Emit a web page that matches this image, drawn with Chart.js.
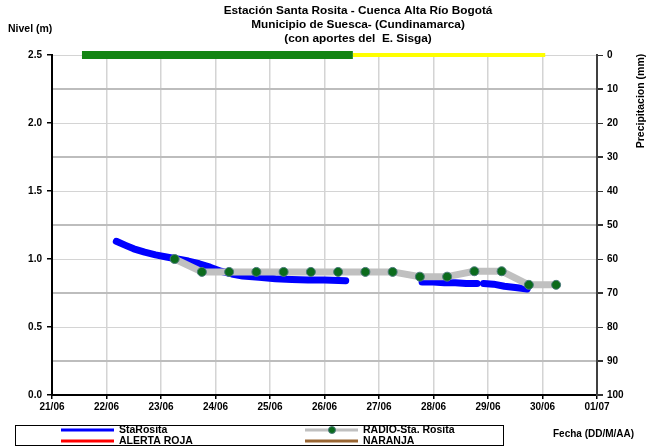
<!DOCTYPE html>
<html>
<head>
<meta charset="utf-8">
<script src="https://cdn.jsdelivr.net/npm/chart.js@4"></script>
<style>
  html, body { margin: 0; padding: 0; background: #fff; }
  canvas { display: block; }
</style>
</head>
<body>
<canvas id="myChart" width="646" height="447"></canvas>
<script>
// fechas del eje x (dias desde 21/06)
var dayLabels = ['21/06', '22/06', '23/06', '24/06', '25/06', '26/06', '27/06', '28/06', '29/06', '30/06', '01/07'];

// nivel StaRosita (m), null = sin dato
var staRositaDays = [1.18, 1.35, 1.5, 1.7, 1.9, 2.1, 2.3, 2.5, 2.7, 2.9, 3.1, 3.3, 3.5, 3.8, 4.1, 4.4, 4.7, 5.0, 5.39, 5.6,
                     6.79, 7.0, 7.2, 7.4, 7.6, 7.8, 7.86, 7.92, 8.1, 8.3, 8.5, 8.72];
var staRositaNivel = [1.13, 1.10, 1.075, 1.05, 1.03, 1.015, 1.0, 0.985, 0.965, 0.94, 0.91, 0.89, 0.875, 0.865, 0.855, 0.85, 0.845, 0.845, 0.84, null,
                      0.83, 0.83, 0.825, 0.825, 0.82, 0.82, null, 0.82, 0.815, 0.80, 0.79, 0.78];

// lecturas RADIO-Sta. Rosita (m)
var radioDays = [2.25, 2.75, 3.25, 3.75, 4.25, 4.75, 5.25, 5.75, 6.25, 6.75, 7.25, 7.75, 8.25, 8.75, 9.25];
var radioNivel = [1.0, 0.905, 0.905, 0.905, 0.905, 0.905, 0.905, 0.905, 0.905, 0.87, 0.87, 0.91, 0.91, 0.81, 0.81];

// franjas de precipitacion (mm) en la parte superior
var precipVerdeDays = [0.55, 5.52];
var precipVerde = [0, 0];
var precipAmarillaDays = [5.52, 9.05];
var precipAmarilla = [0, 0];

function pts(xs, ys) {
    return xs.map(function (x, i) { return { x: x, y: ys[i] }; });
}

var FONT = "Arial, 'Liberation Sans', sans-serif";

// leyenda y textos dibujados a mano
var extras = {
    id: 'extras',
    afterDraw: function (chart) {
        var ctx = chart.ctx;
        ctx.save();
        ctx.fillStyle = '#000';
        ctx.textBaseline = 'middle';
        ctx.font = 'bold 11.8px ' + FONT;
        ctx.textAlign = 'center';
        ctx.fillText('Estación Santa Rosita - Cuenca Alta Río Bogotá', 358, 11);
        ctx.fillText('Municipio de Suesca- (Cundinamarca)', 358, 25);
        ctx.fillText('(con aportes del  E. Sisga)', 358, 39);

        ctx.font = 'bold 10.5px ' + FONT;
        ctx.textAlign = 'left';
        ctx.fillText('Nivel (m)', 8, 29);
        ctx.font = 'bold 10px ' + FONT;
        ctx.fillText('Fecha (DD/M/AA)', 553, 434);

        ctx.save();
        ctx.translate(641, 101);
        ctx.rotate(-Math.PI / 2);
        ctx.textAlign = 'center';
        ctx.font = 'bold 10.5px ' + FONT;
        ctx.fillText('Precipitacion (mm)', 0, 0);
        ctx.restore();

        // caja de la leyenda
        ctx.strokeStyle = '#000';
        ctx.lineWidth = 1;
        ctx.strokeRect(15.5, 425.5, 488, 20);

        var items = chart.data.datasets.filter(function (d) { return d.legendPos; });
        items.forEach(function (d) {
            var lx = d.legendPos[0], ly = d.legendPos[1];
            ctx.strokeStyle = d.borderColor;
            ctx.lineWidth = d.legendWidth;
            ctx.beginPath();
            ctx.moveTo(lx, ly);
            ctx.lineTo(lx + 53, ly);
            ctx.stroke();
            if (d.pointRadius) {
                ctx.fillStyle = d.pointBackgroundColor;
                ctx.strokeStyle = d.pointBorderColor;
                ctx.lineWidth = 1;
                ctx.beginPath();
                ctx.arc(lx + 27, ly, 3.5, 0, Math.PI * 2);
                ctx.fill();
                ctx.stroke();
            }
            ctx.fillStyle = '#000';
            ctx.font = 'bold 10.5px ' + FONT;
            ctx.fillText(d.label, lx + 58, ly);
        });
        ctx.restore();
    }
};

var ctx = document.getElementById('myChart').getContext('2d');
var myChart = new Chart(ctx, {
    type: 'line',
    data: {
        datasets: [{
            label: 'RADIO-Sta. Rosita',
            data: pts(radioDays, radioNivel),
            borderColor: '#c0c0c0',
            borderWidth: 7,
            borderJoinStyle: 'round',
            borderCapStyle: 'round',
            pointRadius: 4.5,
            pointBackgroundColor: '#0b6b1c',
            pointBorderColor: '#4a7a7a',
            pointBorderWidth: 1,
            yAxisID: 'y',
            order: 0,
            legendPos: [305, 430],
            legendWidth: 3
        }, {
            label: 'StaRosita',
            data: pts(staRositaDays, staRositaNivel),
            borderColor: '#0000ff',
            borderWidth: 7,
            borderJoinStyle: 'round',
            borderCapStyle: 'round',
            pointRadius: 0,
            spanGaps: false,
            yAxisID: 'y',
            order: 1,
            legendPos: [61, 430],
            legendWidth: 3
        }, {
            label: 'ALERTA ROJA',
            data: [],
            borderColor: '#ff0000',
            pointRadius: 0,
            yAxisID: 'y',
            order: 2,
            legendPos: [61, 441],
            legendWidth: 3
        }, {
            label: 'NARANJA',
            data: [],
            borderColor: '#996633',
            pointRadius: 0,
            yAxisID: 'y',
            order: 3,
            legendPos: [305, 441],
            legendWidth: 3
        }, {
            label: 'precip1',
            data: pts(precipVerdeDays, precipVerde),
            borderColor: '#138513',
            borderWidth: 8,
            pointRadius: 0,
            yAxisID: 'y2',
            clip: false,
            order: 4
        }, {
            label: 'precip2',
            data: pts(precipAmarillaDays, precipAmarilla),
            borderColor: '#ffff00',
            borderWidth: 4,
            pointRadius: 0,
            yAxisID: 'y2',
            clip: false,
            order: 5
        }]
    },
    options: {
        responsive: false,
        devicePixelRatio: 1,
        animation: false,
        layout: { padding: { top: 55, left: 0, right: 0, bottom: 0 } },
        plugins: {
            legend: { display: false },
            title: { display: false },
            tooltip: { enabled: false }
        },
        scales: {
            x: {
                type: 'linear',
                min: 0,
                max: 10,
                afterFit: function (s) { s.height = 52; },
                ticks: {
                    stepSize: 1,
                    padding: 2,
                    color: '#000',
                    font: { family: FONT, size: 10, weight: 'bold' },
                    callback: function (v) { return dayLabels[v]; },
                    maxRotation: 0
                },
                grid: { color: '#d4d4d4', lineWidth: 1.5, tickLength: 4, tickColor: '#000' },
                border: { color: '#000', width: 2 }
            },
            y: {
                position: 'left',
                min: 0,
                max: 2.5,
                afterFit: function (s) { s.width = 52; },
                ticks: {
                    stepSize: 0.5,
                    padding: 5,
                    color: '#000',
                    font: { family: FONT, size: 10, weight: 'bold' },
                    callback: function (v) { return v.toFixed(1); }
                },
                grid: { drawOnChartArea: false, tickLength: 5, tickColor: '#000', lineWidth: 1.5 },
                border: { color: '#000', width: 2 }
            },
            y2: {
                position: 'right',
                min: 0,
                max: 100,
                reverse: true,
                afterFit: function (s) { s.width = 49; },
                ticks: {
                    stepSize: 10,
                    padding: 4,
                    color: '#000',
                    font: { family: FONT, size: 10, weight: 'bold' }
                },
                grid: {
                    color: function (c) { return (c.index % 2 === 1 || c.index === 0) ? '#bdbdbd' : '#d4d4d4'; },
                    lineWidth: function (c) { return (c.index % 2 === 1 || c.index === 0) ? 2 : 1; },
                    tickLength: 6,
                    tickColor: '#333'
                },
                border: { color: '#404040', width: 2 }
            }
        }
    },
    plugins: [extras]
});
</script>
</body>
</html>
